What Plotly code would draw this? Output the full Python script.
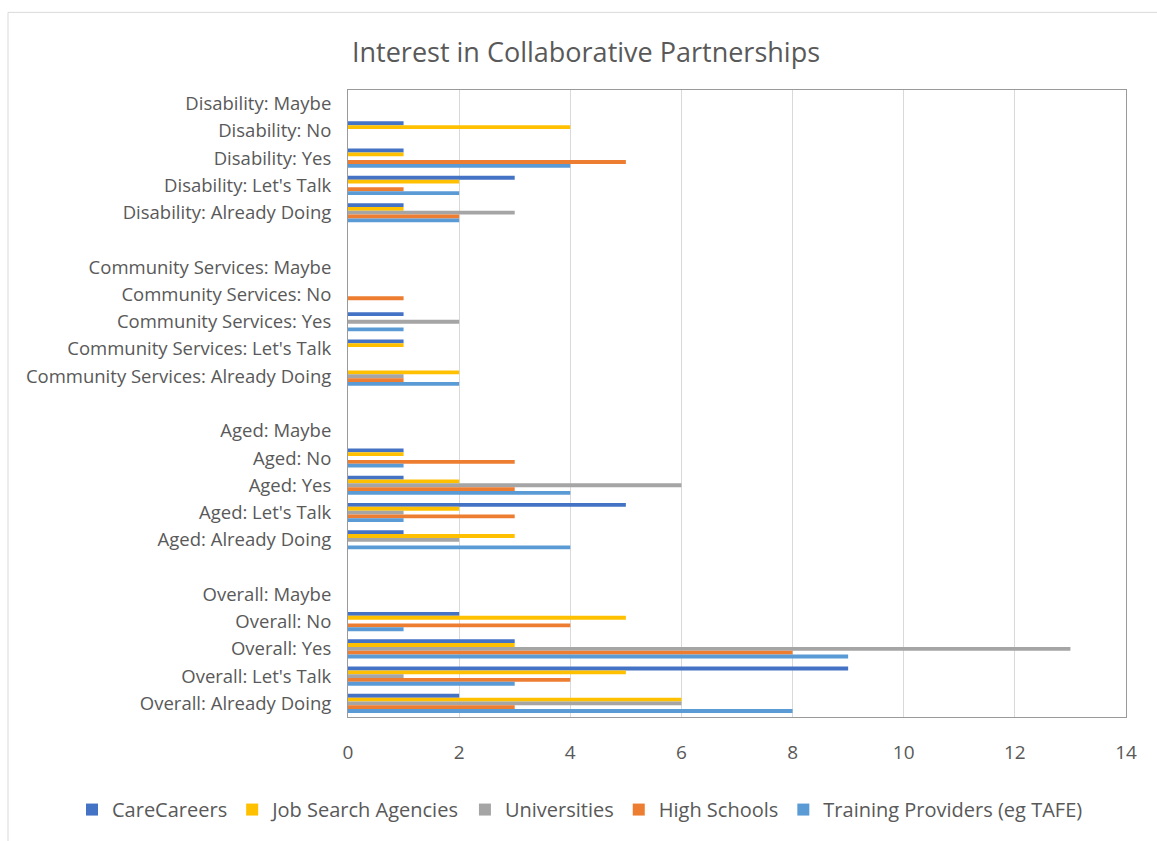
import plotly.graph_objects as go

categories = [
    "Disability: Maybe", "Disability: No", "Disability: Yes", "Disability: Let's Talk", "Disability: Already Doing",
    " ",
    "Community Services: Maybe", "Community Services: No", "Community Services: Yes", "Community Services: Let's Talk", "Community Services: Already Doing",
    "  ",
    "Aged: Maybe", "Aged: No", "Aged: Yes", "Aged: Let's Talk", "Aged: Already Doing",
    "   ",
    "Overall: Maybe", "Overall: No", "Overall: Yes", "Overall: Let's Talk", "Overall: Already Doing",
]

care_careers       = [0, 1, 1, 3, 1, None, 0, 0, 1, 1, 0, None, 0, 1, 1, 5, 1, None, 0, 2, 3, 9, 2]
job_search         = [0, 4, 1, 2, 1, None, 0, 0, 0, 1, 2, None, 0, 1, 2, 2, 3, None, 0, 5, 3, 5, 6]
universities       = [0, 0, 0, 0, 3, None, 0, 0, 2, 0, 1, None, 0, 0, 6, 1, 2, None, 0, 0, 13, 1, 6]
high_schools       = [0, 0, 5, 1, 2, None, 0, 1, 0, 0, 1, None, 0, 3, 3, 3, 0, None, 0, 4, 8, 4, 3]
training_providers = [0, 0, 4, 2, 2, None, 0, 0, 1, 0, 2, None, 0, 1, 4, 1, 4, None, 0, 1, 9, 3, 8]

series_names = ["CareCareers", "Job Search Agencies", "Universities", "High Schools", "Training Providers (eg TAFE)"]
series_values = [care_careers, job_search, universities, high_schools, training_providers]
series_colors = ["#4472C4", "#FFC000", "#A5A5A5", "#ED7D31", "#5B9BD5"]

x_ticks = [0, 2, 4, 6, 8, 10, 12, 14]

fig = go.Figure()
for name, vals, col in zip(series_names, series_values, series_colors):
    fig.add_trace(go.Bar(
        y=categories, x=vals, name=name, orientation="h",
        marker=dict(color=col, line=dict(width=0)),
    ))

PL, PR, PT, PB = 348, 1126, 90, 720
PW, PH = PR - PL, PB - PT

font_family = "Open Sans, Noto Sans, sans-serif"
fig.update_layout(
    width=1157, height=841,
    barmode="group", bargap=0.3, bargroupgap=0,
    paper_bgcolor="white", plot_bgcolor="white",
    margin=dict(l=PL, r=1157 - PR, t=PT, b=841 - PB),
    title=dict(text="Interest in Collaborative Partnerships", x=586 / 1157, xref="container",
               xanchor="center", y=1 - 53 / 841, yanchor="middle",
               font=dict(family=font_family, size=27, color="#595959")),
    font=dict(family=font_family, color="#595959"),
    showlegend=True,
    legend=dict(orientation="h", x=(72 - PL) / PW, xanchor="left", xref="paper",
                y=-(813 - PB) / PH, yref="paper", yanchor="middle",
                font=dict(size=20, color="#595959"), itemwidth=30,
                traceorder="normal"),
    xaxis=dict(range=[0, 14], tickvals=x_ticks, showgrid=True, gridcolor="#D9D9D9", gridwidth=1,
               zeroline=False, showline=True, linecolor="#9A9A9A", mirror=True,
               tickfont=dict(size=19, color="#595959"), ticks="", ticklen=0,
               ticklabelstandoff=18),
    yaxis=dict(autorange="reversed", showgrid=False, showline=True, linecolor="#9A9A9A", mirror=True,
               tickfont=dict(size=18.5, color="#595959"), ticks="", ticklen=0,
               type="category", ticklabelstandoff=12),
)

# outer chart-area border (left and top)
fig.add_shape(type="line", xref="paper", yref="paper",
              x0=(8 - PL) / PW, x1=(8 - PL) / PW, y0=1 + (PT - 12) / PH, y1=-(845 - PB) / PH,
              line=dict(color="#D9D9D9", width=1))
fig.add_shape(type="line", xref="paper", yref="paper",
              x0=(8 - PL) / PW, x1=(1160 - PL) / PW, y0=1 + (PT - 12) / PH, y1=1 + (PT - 12) / PH,
              line=dict(color="#D9D9D9", width=1))

fig.write_html("out.html")
